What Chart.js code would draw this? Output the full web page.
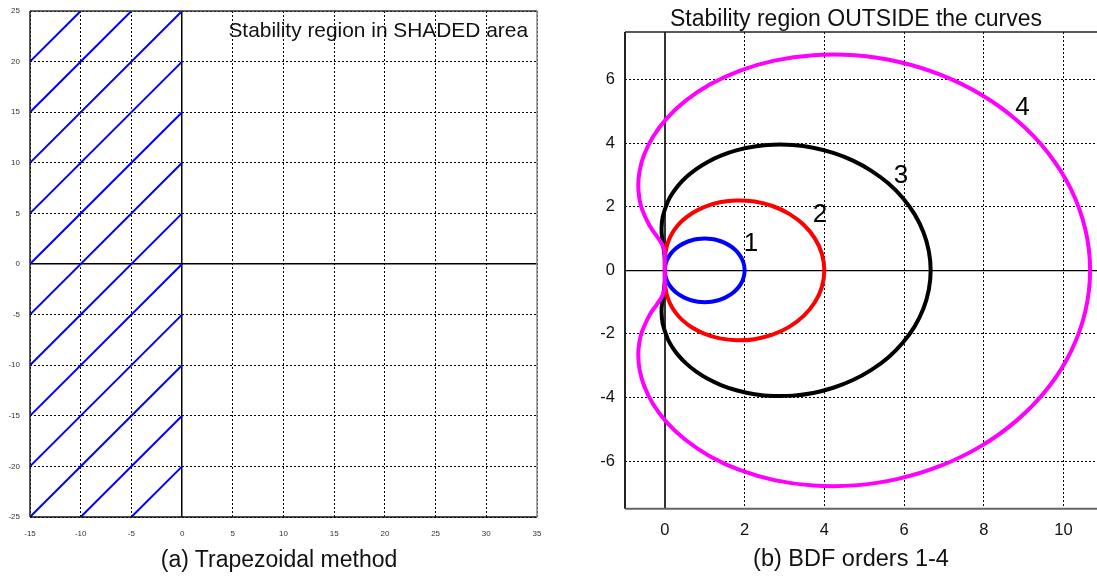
<!DOCTYPE html>
<html lang="en">
<head>
<meta charset="UTF-8">
<script src="https://cdn.jsdelivr.net/npm/chart.js@4.4.1/dist/chart.umd.min.js"></script>
<style>
    html, body {
        margin: 0;
        padding: 0;
        background: #fff;
        overflow: hidden;
    }

    body {
        width: 1097px;
        height: 579px;
        position: relative;
        font-family: "Liberation Sans", Arial, sans-serif;
    }

    .panel {
        position: absolute;
        top: 0;
    }

    .caption {
        position: absolute;
        white-space: nowrap;
        line-height: 1;
        transform: translateX(-50%);
        color: #111;
    }
</style>
<title>Stability regions</title>
</head>
<body>
    <div class="panel" style="left: 0;"><canvas id="chartTrap" width="560" height="579"></canvas></div>
    <div class="panel" style="left: 560px;"><canvas id="chartBdf" width="545" height="579"></canvas></div>

    <div class="caption" style="left: 856px; top: 7px; font-size: 23px;">Stability region OUTSIDE the curves</div>
    <div class="caption" style="left: 279px; top: 548px; font-size: 23px;">(a) Trapezoidal method</div>
    <div class="caption" style="left: 851px; top: 547px; font-size: 23.5px;">(b) BDF orders 1-4</div>

<script>
// ---- (a) trapezoidal method: axis ticks and hatch segments ----
const trapXTicks = [-15, -10, -5, 0, 5, 10, 15, 20, 25, 30, 35];
const trapYTicks = [-25, -20, -15, -10, -5, 0, 5, 10, 15, 20, 25];

const hatchStartX = [-15, -15, -15, -15, -15, -15, -15, -15, -15, -15, -10, -5];
const hatchStartY = [20, 15, 10, 5, 0, -5, -10, -15, -20, -25, -25, -25];
const hatchEndX = [-10, -5, 0, 0, 0, 0, 0, 0, 0, 0, 0, 0];
const hatchEndY = [25, 25, 25, 20, 15, 10, 5, 0, -5, -10, -15, -20];

// ---- (b) BDF orders 1-4: boundary curves ----
const bdfXTicks = [0, 2, 4, 6, 8, 10];
const bdfYTicks = [-6, -4, -2, 0, 2, 4, 6];

const bdf1X = [0, 0.015, 0.060, 0.134, 0.234, 0.357, 0.500, 0.658, 0.826, 1.000, 1.174, 1.342, 1.500, 1.643, 1.766, 1.866, 1.940, 1.985, 2.000,
    1.985, 1.940, 1.866, 1.766, 1.643, 1.500, 1.342, 1.174, 1.000, 0.826, 0.658, 0.500, 0.357, 0.234, 0.134, 0.060, 0.015, 0];
const bdf1Y = [0, 0.174, 0.342, 0.500, 0.643, 0.766, 0.866, 0.940, 0.985, 1.000, 0.985, 0.940, 0.866, 0.766, 0.643, 0.500, 0.342, 0.174, 0,
    -0.174, -0.342, -0.500, -0.643, -0.766, -0.866, -0.940, -0.985, -1.000, -0.985, -0.940, -0.866, -0.766, -0.643, -0.500, -0.342, -0.174, 0];

const bdf2X = [0, 0.000, 0.004, 0.018, 0.055, 0.128, 0.250, 0.433, 0.683, 1.000, 1.377, 1.801, 2.250, 2.699, 3.119, 3.482, 3.762, 3.939, 4.000,
    3.939, 3.762, 3.482, 3.119, 2.699, 2.250, 1.801, 1.377, 1.000, 0.683, 0.433, 0.250, 0.128, 0.055, 0.018, 0.004, 0.000, 0];
const bdf2Y = [0, 0.176, 0.363, 0.567, 0.793, 1.040, 1.299, 1.558, 1.799, 2.000, 2.141, 2.201, 2.165, 2.025, 1.778, 1.433, 1.005, 0.518, 0,
    -0.518, -1.005, -1.433, -1.778, -2.025, -2.165, -2.201, -2.141, -2.000, -1.799, -1.558, -1.299, -1.040, -0.793, -0.567, -0.363, -0.176, 0];

const bdf3X = [0, 0.000, -0.003, -0.015, -0.038, -0.067, -0.083, -0.053, 0.070, 0.181, 0.333, 0.531, 0.778, 1.075, 1.422, 1.815, 2.250, 2.719, 3.213, 3.719, 4.225, 4.718, 5.181, 5.603, 5.968, 6.266, 6.486, 6.621, 6.667,
    6.621, 6.486, 6.266, 5.968, 5.603, 5.181, 4.718, 4.225, 3.719, 3.213, 2.719, 2.250, 1.815, 1.422, 1.075, 0.778, 0.531, 0.333, 0.181, 0.070, -0.053, -0.083, -0.067, -0.038, -0.015, -0.003, 0.000, 0];
const bdf3Y = [0, 0.175, 0.351, 0.534, 0.740, 0.988, 1.299, 1.688, 2.153, 2.406, 2.667, 2.927, 3.179, 3.412, 3.617, 3.782, 3.897, 3.953, 3.942, 3.857, 3.694, 3.452, 3.132, 2.739, 2.279, 1.762, 1.201, 0.608, 0,
    -0.608, -1.201, -1.762, -2.279, -2.739, -3.132, -3.452, -3.694, -3.857, -3.942, -3.953, -3.897, -3.782, -3.617, -3.412, -3.179, -2.927, -2.667, -2.406, -2.153, -1.688, -1.299, -0.988, -0.740, -0.534, -0.351, -0.175, 0];

const bdf4X = [0, 0.000, -0.001, -0.006, -0.028, -0.089, -0.208, -0.385, -0.572, -0.640, -0.667, -0.633, -0.516, -0.297, 0.042, 0.514, 1.125, 1.872, 2.744, 3.719, 4.767, 5.849, 6.923, 7.939, 8.850, 9.613, 10.188, 10.545, 10.667,
    10.545, 10.188, 9.613, 8.850, 7.939, 6.923, 5.849, 4.767, 3.719, 2.744, 1.872, 1.125, 0.514, 0.042, -0.297, -0.516, -0.633, -0.667, -0.640, -0.572, -0.385, -0.208, -0.089, -0.028, -0.006, -0.001, 0.000, 0];
const bdf4Y = [0, 0.175, 0.348, 0.519, 0.686, 0.862, 1.083, 1.410, 1.919, 2.261, 2.667, 3.132, 3.650, 4.204, 4.774, 5.332, 5.846, 6.280, 6.600, 6.771, 6.766, 6.562, 6.148, 5.523, 4.697, 3.695, 2.548, 1.300, 0,
    -1.300, -2.548, -3.695, -4.697, -5.523, -6.148, -6.562, -6.766, -6.771, -6.600, -6.280, -5.846, -5.332, -4.774, -4.204, -3.650, -3.132, -2.667, -2.261, -1.919, -1.410, -1.083, -0.862, -0.686, -0.519, -0.348, -0.175, 0];

const bdfNames = ['1', '2', '3', '4'];
const bdfColors = ['#0000ff', '#ff0000', '#000000', '#ff00ff'];
// where each order number sits (data units)
const bdfLabelX = [2.16, 3.89, 5.92, 8.97];
const bdfLabelY = [0.90, 1.82, 3.05, 5.17];

const FONT = '"Liberation Sans", Arial, sans-serif';

function toPoints(xs, ys) {
    return xs.map((x, i) => ({ x: x, y: ys[i] }));
}

function setTicks(list) {
    return (scale) => { scale.ticks = list.map(v => ({ value: v })); };
}

// draws the four sides of the plot frame
function framePlugin(sides) {
    return {
        id: 'frame',
        afterDatasetsDraw(chart) {
            const { ctx, chartArea: a } = chart;
            const lines = {
                top: [a.left, a.top, a.right, a.top],
                bottom: [a.left, a.bottom, a.right, a.bottom],
                left: [a.left, a.top, a.left, a.bottom],
                right: [a.right, a.top, a.right, a.bottom]
            };
            ctx.save();
            Object.keys(sides).forEach(k => {
                const s = sides[k];
                const p = lines[k];
                ctx.strokeStyle = s.color;
                ctx.lineWidth = s.width;
                ctx.beginPath();
                ctx.moveTo(p[0], p[1]);
                ctx.lineTo(p[2], p[3]);
                ctx.stroke();
            });
            ctx.restore();
        }
    };
}

// ---------- chart (a) ----------
const trapGrid = {
    color: '#000',
    lineWidth: (c) => (c.tick && c.tick.value === 0 ? 1.5 : 1),
    drawTicks: false
};
const trapBorder = {
    display: false,
    dash: (c) => (c.tick && c.tick.value === 0 ? [] : [2, 2])
};
const trapTickFont = { family: FONT, size: 8 };

new Chart(document.getElementById('chartTrap'), {
    type: 'scatter',
    data: {
        datasets: hatchStartX.map((x0, i) => ({
            data: [{ x: x0, y: hatchStartY[i] }, { x: hatchEndX[i], y: hatchEndY[i] }],
            showLine: true,
            borderColor: '#0000ff',
            borderWidth: 2,
            pointRadius: 0,
            tension: 0
        }))
    },
    options: {
        responsive: false,
        animation: false,
        layout: { padding: { top: 11, right: 23, bottom: 34, left: 0 } },
        plugins: {
            legend: { display: false },
            tooltip: { enabled: false }
        },
        scales: {
            x: {
                type: 'linear',
                min: -15,
                max: 35,
                afterBuildTicks: setTicks(trapXTicks),
                afterFit: (s) => { s.height = 28; },
                grid: trapGrid,
                border: trapBorder,
                ticks: { font: trapTickFont, color: '#333', padding: 12, maxRotation: 0 }
            },
            y: {
                type: 'linear',
                min: -25,
                max: 25,
                afterBuildTicks: setTicks(trapYTicks),
                afterFit: (s) => { s.width = 30; s.paddingTop = 0; s.paddingBottom = 0; },
                grid: trapGrid,
                border: trapBorder,
                ticks: { font: trapTickFont, color: '#333', padding: 10 }
            }
        }
    },
    plugins: [
        framePlugin({
            top: { color: '#333', width: 1.5 },
            left: { color: '#222', width: 1.5 },
            bottom: { color: '#111', width: 1.5 },
            right: { color: '#888', width: 1.5 }
        }),
        {
            id: 'shadedNote',
            afterDatasetsDraw(chart) {
                const { ctx, chartArea: a } = chart;
                ctx.save();
                ctx.font = '20.9px ' + FONT;
                ctx.fillStyle = '#111';
                ctx.textAlign = 'right';
                ctx.textBaseline = 'alphabetic';
                ctx.fillText('Stability region in SHADED area', a.right - 9, a.top + 26.3);
                ctx.restore();
            }
        }
    ]
});

// ---------- chart (b) ----------
const bdfXs = [bdf1X, bdf2X, bdf3X, bdf4X];
const bdfYs = [bdf1Y, bdf2Y, bdf3Y, bdf4Y];
const bdfTickFont = { family: FONT, size: 16.5 };

new Chart(document.getElementById('chartBdf'), {
    type: 'scatter',
    data: {
        datasets: bdfNames.map((name, i) => ({
            label: 'BDF' + name,
            data: toPoints(bdfXs[i], bdfYs[i]),
            showLine: true,
            borderColor: bdfColors[i],
            borderWidth: 4,
            pointRadius: 0,
            tension: 0.4,
            order: i === 3 ? 0 : i + 1
        }))
    },
    options: {
        responsive: false,
        animation: false,
        layout: { padding: { top: 32, right: 1.6, bottom: 35.3, left: 0 } },
        plugins: {
            legend: { display: false },
            tooltip: { enabled: false }
        },
        scales: {
            x: {
                type: 'linear',
                min: -1,
                max: 11,
                afterBuildTicks: setTicks(bdfXTicks),
                afterFit: (s) => { s.height = 35; },
                grid: {
                    color: (c) => (c.tick && c.tick.value === 0 ? '#333' : '#000'),
                    lineWidth: (c) => (c.tick && c.tick.value === 0 ? 2 : 1),
                    drawTicks: false
                },
                border: {
                    display: false,
                    dash: (c) => (c.tick && c.tick.value === 0 ? [] : [2, 2])
                },
                ticks: { font: bdfTickFont, color: '#111', padding: 12, maxRotation: 0 }
            },
            y: {
                type: 'linear',
                min: -7.5,
                max: 7.5,
                afterBuildTicks: setTicks(bdfYTicks),
                afterFit: (s) => { s.width = 65; },
                grid: {
                    color: '#000',
                    lineWidth: (c) => (c.tick && c.tick.value === 0 ? 1.3 : 1),
                    drawTicks: false
                },
                border: {
                    display: false,
                    dash: (c) => (c.tick && c.tick.value === 0 ? [] : [2, 2])
                },
                ticks: { font: bdfTickFont, color: '#111', padding: 10 }
            }
        }
    },
    plugins: [
        framePlugin({
            top: { color: '#222', width: 1.5 },
            left: { color: '#222', width: 2 },
            bottom: { color: '#666', width: 2 }
        }),
        {
            id: 'orderLabels',
            afterDatasetsDraw(chart) {
                const { ctx, scales } = chart;
                const size = 26;
                ctx.save();
                ctx.font = size + 'px ' + FONT;
                ctx.fillStyle = '#000';
                ctx.textAlign = 'center';
                ctx.textBaseline = 'alphabetic';
                bdfNames.forEach((name, i) => {
                    const px = scales.x.getPixelForValue(bdfLabelX[i]);
                    const py = scales.y.getPixelForValue(bdfLabelY[i]);
                    ctx.fillText(name, px, py + size * 0.358);
                });
                ctx.restore();
            }
        }
    ]
});
</script>
</body>
</html>
